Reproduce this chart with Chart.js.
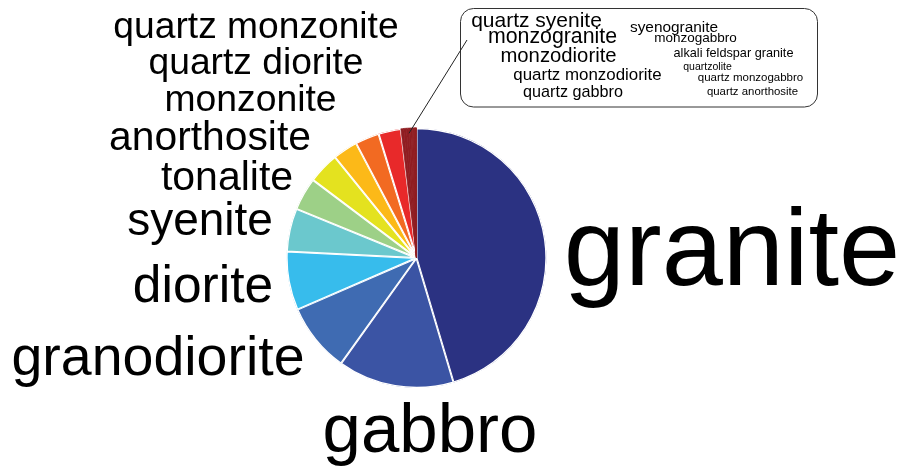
<!DOCTYPE html>
<html>
<head>
<meta charset="utf-8">
<script src="https://cdn.jsdelivr.net/npm/chart.js@4.4.1/dist/chart.umd.min.js"></script>
<style>
  html, body { margin: 0; padding: 0; background: #fff; }
  #wrap { width: 909px; height: 470px; position: relative; }
</style>
</head>
<body>
<div id="wrap"><canvas id="rock_pie"></canvas></div>
<script>
// rock types, clockwise from 12 o'clock
const rockTypes = ['granite', 'gabbro', 'granodiorite', 'diorite', 'syenite', 'tonalite',
  'anorthosite', 'monzonite', 'quartz diorite', 'quartz monzonite',
  'quartz syenite', 'monzogranite', 'monzodiorite', 'quartz monzodiorite', 'quartz gabbro',
  'syenogranite', 'monzogabbro', 'alkali feldspar granite', 'quartzolite',
  'quartz monzogabbro', 'quartz anorthosite'];

// share of samples (%)
const shares = [45.4, 14.5, 8.6, 7.3, 5.4, 4.1, 3.9, 3.1, 3.0, 2.8,
  0.35, 0.33, 0.30, 0.22, 0.20, 0.15, 0.10, 0.10, 0.07, 0.05, 0.05];

const bigColors = ['#2b3282', '#3b54a4', '#3f6bb2', '#37bcec', '#6bc8cd', '#9dd087',
  '#e4e21f', '#fcb918', '#f26a22', '#e8292a'];
const smallColor = '#8f1d21';
const nBig = bigColors.length;

// label layout: [center x, baseline y, font px]
const labelPos = [
  [732, 285, 110], [430, 452, 69], [158, 375, 55.5], [203, 301.5, 51.5], [200, 235, 46],
  [227, 190, 41], [210, 149.5, 40.8], [250.5, 111, 37.3], [256, 74, 37.2], [256, 38, 37.2],
  [536.5, 26.5, 21], [552.5, 43, 21.3], [558.5, 62, 20.3], [587.5, 80, 16.9], [573, 96.7, 16.2],
  [674, 31.7, 15.4], [695.5, 42.3, 13.5], [733.5, 57.3, 12.7], [707.5, 70, 10.5],
  [750.5, 81, 11.5], [752.5, 95, 11.4]
];
const boxRect = [460.5, 8.5, 357, 98.5];

// the small slices are drawn as one dark red wedge (own-colour border hides the seams)
const sliceColors = shares.map((v, i) => i < nBig ? bigColors[i] : smallColor);
const sliceBorderColors = shares.map((v, i) => i < nBig ? '#fff' : smallColor);
const sliceBorders = shares.map((v, i) => i < nBig ? 1 : 0.7);
const sliceAlign = shares.map((v, i) => i < nBig ? 'inner' : 'center');

const labelPlugin = {
  id: 'rockLabels',
  afterDatasetsDraw(chart) {
    const ctx = chart.ctx;
    const arcs = chart.getDatasetMeta(0).data;
    ctx.save();
    ctx.fillStyle = '#000';
    ctx.textAlign = 'center';
    ctx.textBaseline = 'alphabetic';
    rockTypes.forEach((name, i) => {
      const p = labelPos[i];
      ctx.font = p[2] + 'px "Liberation Sans", Arial, sans-serif';
      ctx.fillText(name, p[0], p[1]);
    });

    // box round the small ones
    ctx.strokeStyle = '#333';
    ctx.lineWidth = 1;
    ctx.beginPath();
    ctx.roundRect(boxRect[0], boxRect[1], boxRect[2], boxRect[3], 13);
    ctx.stroke();

    // leader line from the small slices
    const first = arcs[nBig], last = arcs[arcs.length - 1];
    const mid = (first.startAngle + last.endAngle) / 2;
    const r = first.outerRadius * 0.96;
    ctx.strokeStyle = '#222';
    ctx.beginPath();
    ctx.moveTo(first.x + Math.cos(mid) * r, first.y + Math.sin(mid) * r);
    ctx.lineTo(467, 40);
    ctx.stroke();
    ctx.restore();
  }
};

new Chart(document.getElementById('rock_pie'), {
  type: 'pie',
  data: {
    labels: rockTypes,
    datasets: [{
      data: shares,
      backgroundColor: sliceColors,
      borderColor: sliceBorderColors,
      borderWidth: sliceBorders,
      borderAlign: sliceAlign
    }]
  },
  options: {
    responsive: true,
    maintainAspectRatio: false,
    animation: false,
    layout: { padding: { left: 286, right: 362, top: 127, bottom: 81 } },
    plugins: {
      legend: { display: false },
      tooltip: { enabled: false }
    }
  },
  plugins: [labelPlugin]
});
</script>
</body>
</html>
